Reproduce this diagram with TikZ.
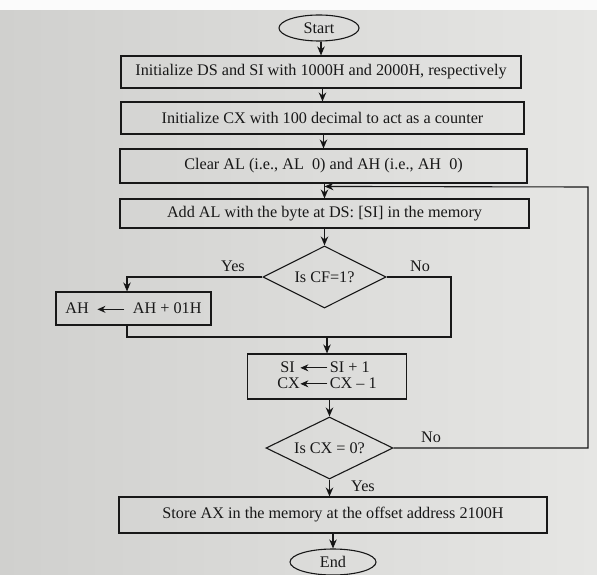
\documentclass[tikz,border=0pt]{standalone}
\usepackage{fontspec}
\setmainfont{Liberation Serif}
\usetikzlibrary{shapes.geometric,arrows.meta,calc}

\definecolor{ink}{RGB}{24,24,24}
\definecolor{paperA}{RGB}{208,208,206}
\definecolor{paperB}{RGB}{230,230,228}

% small left-pointing assignment arrow used inside the boxes
\newcommand{\getsarrow}{\tikz[baseline=-0.6ex]\draw[draw=ink,line width=1.1pt,-{Stealth[length=8pt,width=7pt]}] (27pt,0pt)--(0pt,0pt);}

\tikzset{
  procbox/.style={draw=ink, line width=1.1pt, inner sep=0pt, text=ink},
  term/.style={ellipse, draw=ink, line width=1.1pt, inner sep=0pt, text=ink},
  decide/.style={diamond, draw=ink, line width=1.1pt, inner sep=0pt, aspect=2, text=ink},
  arr/.style={draw=ink, line width=1.1pt, -{Stealth[length=9pt,width=7.5pt]}},
  wire/.style={draw=ink, line width=1.1pt},
  lbl/.style={text=ink, inner sep=0pt}
}

\begin{document}
\begin{tikzpicture}[x=1pt,y=-1pt,font=\fontsize{16.2}{19}\selectfont]
\useasboundingbox (0,0) rectangle (597,575);
% paper
\shade[left color=paperA, right color=paperB] (0,0) rectangle (597,575);
\fill[white!85!paperB] (0,0) rectangle (597,10);

% nodes
\node[term, minimum width=80pt, minimum height=26pt] (start) at (319,28) {Start};
\node[procbox, minimum width=400pt, minimum height=32pt] (b1) at (321,72)
  {Initialize DS and SI with 1000H and 2000H, respectively};
\node[procbox, minimum width=403pt, minimum height=32pt] (b2) at (322.5,118)
  {Initialize CX with 100 decimal to act as a counter};
\node[procbox, minimum width=407pt, minimum height=34pt] (b3) at (323.5,166)
  {Clear AL (i.e., AL\ \ 0) and AH (i.e., AH\ \ 0)};
\node[procbox, minimum width=409pt, minimum height=29pt] (b4) at (324.5,213.5)
  {Add AL with the byte at DS: [SI] in the memory};
\node[decide, minimum width=123pt, minimum height=62pt] (d1) at (324.5,277) {Is CF=1?};
\node[procbox, minimum width=155pt, minimum height=33pt] (ah) at (133.5,308.5)
  {AH\hspace{8pt}\getsarrow\hspace{8pt}AH + 01H};
\node[procbox, minimum width=159pt, minimum height=45pt] (si) at (327,376.5)
  {\begin{tabular}{@{}r@{}c@{}l@{}}SI\hspace{5pt} & \getsarrow & \hspace{2pt}SI + 1\\[-3pt] CX & \getsarrow & \hspace{2pt}CX -- 1\end{tabular}};
\node[decide, minimum width=127pt, minimum height=62pt] (d2) at (329.5,448) {Is CX = 0?};
\node[procbox, minimum width=428pt, minimum height=36pt] (st) at (333,515)
  {Store AX in the memory at the offset address 2100H};
\node[term, minimum width=86pt, minimum height=26pt] (end) at (333,562) {End};

% branch labels
\node[lbl] (lyes1) at (233,266) {Yes};
\node[lbl] (lno1) at (420,266) {No};
\node[lbl] (lno2) at (431,437) {No};
\node[lbl] (lyes2) at (363,486) {Yes};

% helper points for routed connectors
\path (b4.north) ++(0,-12) coordinate (jn);
\coordinate (yl) at (127,277);
\coordinate (nr) at (451,277);
\coordinate (mr) at (451,337);
\coordinate (mj) at (127,337);
\coordinate (rb) at (588,448);
\coordinate (rt) at (588,187);

% main flow
\draw[arr] (b1.north |- start.south) -- (b1.north);
\draw[arr] (b1.south -| b2.north) -- (b2.north);
\draw[arr] (b2.south -| b3.north) -- (b3.north);
\draw[arr] (b3.south -| b4.north) -- (b4.north);
\draw[arr] (b4.south -| d1.north) -- (d1.north);

% CF test
\draw[arr] (d1.west) -- (yl) -- (yl |- ah.north);
\draw[wire] (d1.east) -- (nr) -- (mr) -- (mj) -- (yl |- ah.south);
\draw[arr] (si.north |- mj) -- (si.north);

% counter test and loop back
\draw[arr] (si.south -| d2.north) -- (d2.north);
\draw[arr] (d2.east) -- (rb) -- (rt) -- (jn);
\draw[arr] (d2.south) -- (d2.south |- st.north);
\draw[arr] (st.south -| end.north) -- (end.north);
\end{tikzpicture}
\end{document}
